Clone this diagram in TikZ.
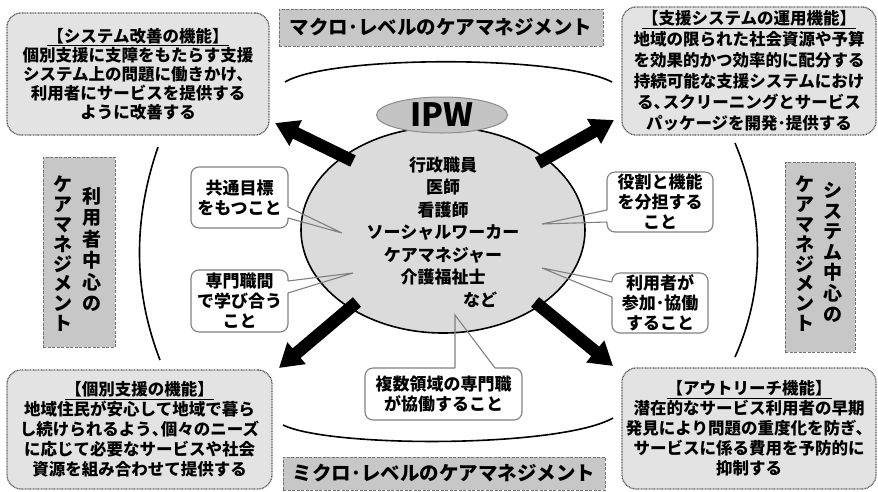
\documentclass[tikz,border=0pt]{standalone}
\usepackage{fontspec}
\setmainfont{Noto Sans CJK JP}
\usetikzlibrary{arrows.meta,calc,shapes.geometric}
\newcommand{\tou}{、\kern-0.45em}
\begin{document}
\begin{tikzpicture}[x=1pt,y=-1pt,
  cornerbox/.style={draw=black!65, line width=1.3pt, dash pattern=on 0.9pt off 0.7pt,
    fill=black!11, rounded corners=14pt, inner sep=0pt, outer sep=0pt, align=center,
    font=\bfseries\fontsize{16.5}{20}\selectfont},
  levellabel/.style={draw=black!55, dash pattern=on 3pt off 1.5pt, line width=0.9pt,
    fill=black!22, inner sep=0pt, outer sep=0pt, align=center,
    font=\bfseries\fontsize{19.5}{22}\selectfont},
  vcol/.style={inner sep=0pt, anchor=north, align=center, font=\bfseries\fontsize{19}{19.8}\selectfont},
  callbox/.style={draw=black!50, line width=1.1pt, fill=white, rounded corners=8pt,
    inner sep=0pt, outer sep=0pt, align=center, font=\bfseries\fontsize{17}{20}\selectfont},
  pointer/.style={draw=black!50, line width=1.1pt, line join=miter},
  eraser/.style={draw=white, line width=2.6pt},
  bigarrow/.style={line width=12.5pt, black, -{Triangle[width=27pt,length=23pt]}},
  arcline/.style={line width=1.6pt, black},
  centertext/.style={inner sep=0pt, align=center, font=\bfseries\fontsize{17}{22.4}\selectfont}
]
\useasboundingbox (0,0) rectangle (878,491);

% outer arcs
\coordinate (aT1) at (285,82); \coordinate (aT2) at (612,82);
\coordinate (aL1) at (158,147); \coordinate (aL2) at (160,360);
\coordinate (aR1) at (735,143); \coordinate (aR2) at (735,357);
\coordinate (aB1) at (283,425); \coordinate (aB2) at (613,418);
\draw[arcline] (aT1) .. controls (330,55) and (560,55) .. (aT2);
\draw[arcline] (aL1) .. controls (133,220) and (133,290) .. (aL2);
\draw[arcline] (aR1) .. controls (765,215) and (765,290) .. (aR2);
\draw[arcline] (aB1) .. controls (330,448) and (560,448) .. (aB2);

% corner boxes
\node[cornerbox, minimum width=262, minimum height=122,
  font=\bfseries\fontsize{16.5}{19}\selectfont] (tl) at (138,74)
  {\underline{【システム改善の機能】}\\個別支援に支障をもたらす支援\\システム上の問題に働きかけ、\\利用者にサービスを提供する\\ように改善する};
\node[cornerbox, minimum width=254, minimum height=128,
  font=\bfseries\fontsize{16.5}{21}\selectfont] (tr) at (749,71)
  {\underline{【支援システムの運用機能】}\\地域の限られた社会資源や予算\\を効果的かつ効率的に配分する\\持続可能な支援システムにおけ\\る\tou スクリーニングとサービス\\パッケージを開発･提供する};
\node[cornerbox, minimum width=265, minimum height=119] (bl) at (139.5,429.5)
  {\underline{【個別支援の機能】}\\地域住民が安心して地域で暮ら\\し続けられるよう\tou 個々のニーズ\\に応じて必要なサービスや社会\\資源を組み合わせて提供する};
\node[cornerbox, minimum width=254, minimum height=121] (br) at (749,428.5)
  {\underline{【アウトリーチ機能】}\\潜在的なサービス利用者の早期\\発見により問題の重度化を防ぎ、\\サービスに係る費用を予防的に\\抑制する};

% level labels
\node[levellabel, minimum width=324, minimum height=37] (macro) at (441,27.5) {マクロ･レベルのケアマネジメント};
\node[levellabel, minimum width=322, minimum height=33] (micro) at (444,473.5) {ミクロ･レベルのケアマネジメント};
\node[levellabel, minimum width=72, minimum height=190] (userlab) at (79,252) {};
\node[vcol] (userc2) at (63,176) {ケ\\ア\\マ\\ネ\\ジ\\メ\\ン\\ト};
\node[vcol, font=\bfseries\fontsize{19}{21.5}\selectfont] (userc1) at (92,187) {利\\用\\者\\中\\心\\の};
\node[levellabel, minimum width=70, minimum height=190] (syslab) at (820,257) {};
\node[vcol] (sysc2) at (805,176) {ケ\\ア\\マ\\ネ\\ジ\\メ\\ン\\ト};
\node[vcol, font=\bfseries\fontsize{19}{20.6}\selectfont] (sysc1) at (833,182) {シ\\ス\\テ\\ム\\中\\心\\の};

% central ellipse
\node[draw=black, line width=1.6pt, fill=black!14, ellipse, minimum width=284, minimum height=206, inner sep=0pt] (team) at (443,230) {};

% thick arrows
\coordinate (t1) at (353,161); \coordinate (h1) at (275,123);
\coordinate (t2) at (538,163); \coordinate (h2) at (614,120);
\coordinate (t3) at (357,302); \coordinate (h3) at (279,368);
\coordinate (t4) at (535,302); \coordinate (h4) at (613,366);
\draw[bigarrow] (t1) -- (h1);
\draw[bigarrow] (t2) -- (h2);
\draw[bigarrow] (t3) -- (h3);
\draw[bigarrow] (t4) -- (h4);

% IPW
\node[draw=black!45, line width=1pt, fill=black!23, ellipse, minimum width=131, minimum height=36, inner sep=0pt,
  font=\bfseries\fontsize{32}{32}\selectfont] (ipw) at (442,115) {IPW};

% professions
\node[centertext] (prof) at (443,221) {行政職員\\医師\\看護師\\ソーシャルワーカー\\ケアマネジャー\\介護福祉士};
\node[centertext] (nado) at (480,300) {など};

% callouts
\node[callbox, minimum width=97, minimum height=61] (c1) at (239.5,197.5) {共通目標\\をもつこと};
\node[callbox, minimum width=97, minimum height=62] (c2) at (239.5,301) {専門職間\\で学び合う\\こと};
\node[callbox, minimum width=106, minimum height=60] (c3) at (660,202) {役割と機能\\を分担する\\こと};
\node[callbox, minimum width=96, minimum height=60] (c4) at (660,303) {利用者が\\参加･協働\\すること};
\node[callbox, minimum width=157, minimum height=52] (c5) at (443.5,394) {複数領域の専門職\\が協働すること};

\coordinate (p1) at (342,233);
\coordinate (p2) at (353,273);
\coordinate (p3) at (542,224);
\coordinate (p4) at (542,268);
\coordinate (p5) at (455,315);

\draw[eraser] ($(c1.east)+(0,9.5)$) -- ($(c1.east)+(0,20.5)$);
\draw[pointer] ($(c1.east)+(0,9.5)$) -- (p1) -- ($(c1.east)+(0,20.5)$);
\draw[eraser] ($(c2.east)+(0,-20)$) -- ($(c2.east)+(0,-8)$);
\draw[pointer] ($(c2.east)+(0,-20)$) -- (p2) -- ($(c2.east)+(0,-8)$);
\draw[eraser] ($(c3.west)+(0,8)$) -- ($(c3.west)+(0,20)$);
\draw[pointer] ($(c3.west)+(0,8)$) -- (p3) -- ($(c3.west)+(0,20)$);
\draw[eraser] ($(c4.west)+(0,-21)$) -- ($(c4.west)+(0,-6)$);
\draw[pointer] ($(c4.west)+(0,-21)$) -- (p4) -- ($(c4.west)+(0,-6)$);
\draw[eraser] ($(c5.north)+(11.5,0)$) -- ($(c5.north)+(51.5,0)$);
\draw[pointer] ($(c5.north)+(11.5,0)$) -- (p5) -- ($(c5.north)+(51.5,0)$);
\end{tikzpicture}
\end{document}
